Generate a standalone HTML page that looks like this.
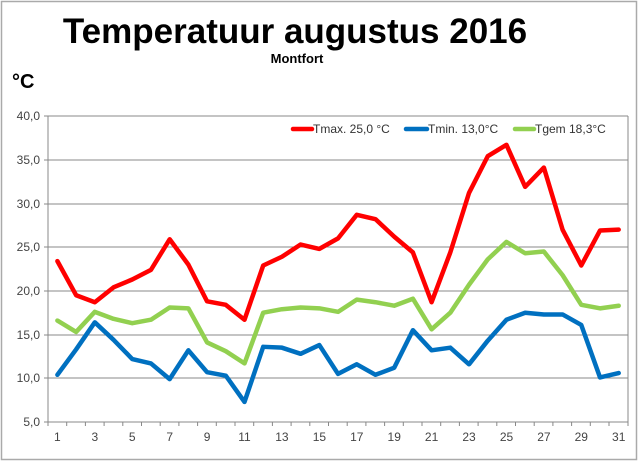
<!DOCTYPE html>
<html><head><meta charset="utf-8"><style>
html,body{margin:0;padding:0;background:#fff;}
svg{display:block;font-family:"Liberation Sans",Arial,sans-serif;}
</style></head><body>
<svg width="640" height="462" viewBox="0 0 640 462">
<rect x="1.5" y="1.5" width="635" height="458" fill="#fff" stroke="#aaa" stroke-width="1.5"/>
<text x="295" y="43" text-anchor="middle" font-size="35" font-weight="bold" fill="#000">Temperatuur augustus 2016</text>
<text x="297" y="63" text-anchor="middle" font-size="13" font-weight="bold" fill="#000">Montfort</text>
<text x="12" y="88" font-size="20" font-weight="bold" fill="#000">°C</text>
<g stroke="#888" stroke-width="1">
<line x1="48" y1="116" x2="628" y2="116"/>
<line x1="48" y1="160" x2="628" y2="160"/>
<line x1="48" y1="204" x2="628" y2="204"/>
<line x1="48" y1="247" x2="628" y2="247"/>
<line x1="48" y1="291" x2="628" y2="291"/>
<line x1="48" y1="335" x2="628" y2="335"/>
<line x1="48" y1="378" x2="628" y2="378"/>
<line x1="48" y1="422" x2="628" y2="422"/>
<line x1="48" y1="116" x2="48" y2="422"/>
<line x1="628" y1="116" x2="628" y2="426"/>
<line x1="44" y1="116" x2="48" y2="116"/><line x1="44" y1="160" x2="48" y2="160"/><line x1="44" y1="204" x2="48" y2="204"/><line x1="44" y1="247" x2="48" y2="247"/><line x1="44" y1="291" x2="48" y2="291"/><line x1="44" y1="335" x2="48" y2="335"/><line x1="44" y1="378" x2="48" y2="378"/><line x1="44" y1="422" x2="48" y2="422"/>
</g>
<g stroke="#888" stroke-width="1" id="xt">
<path d="M48 422v4M66.7 422v4M85.4 422v4M104.1 422v4M122.8 422v4M141.5 422v4M160.2 422v4M178.9 422v4M197.6 422v4M216.3 422v4M235 422v4M253.7 422v4M272.4 422v4M291.1 422v4M309.8 422v4M328.5 422v4M347.2 422v4M365.9 422v4M384.6 422v4M403.3 422v4M422 422v4M440.7 422v4M459.4 422v4M478.1 422v4M496.8 422v4M515.5 422v4M534.2 422v4M552.9 422v4M571.6 422v4M590.3 422v4M609 422v4"/>
</g>
<g font-size="12" fill="#444" text-anchor="end">
<text x="40" y="120">40,0</text><text x="40" y="164">35,0</text><text x="40" y="208">30,0</text><text x="40" y="251">25,0</text><text x="40" y="295">20,0</text><text x="40" y="339">15,0</text><text x="40" y="382">10,0</text><text x="40" y="426">5,0</text>
</g>
<g font-size="12" fill="#444" text-anchor="middle">
<text x="57.4" y="441">1</text><text x="94.8" y="441">3</text><text x="132.2" y="441">5</text><text x="169.7" y="441">7</text><text x="207.1" y="441">9</text><text x="244.5" y="441">11</text><text x="281.9" y="441">13</text><text x="319.4" y="441">15</text><text x="356.8" y="441">17</text><text x="394.2" y="441">19</text><text x="431.6" y="441">21</text><text x="469" y="441">23</text><text x="506.5" y="441">25</text><text x="543.9" y="441">27</text><text x="581.3" y="441">29</text><text x="618.7" y="441">31</text>
</g>
<g transform="translate(38.69,465.715) scale(18.71,-8.743)" fill="none" stroke-linejoin="round" stroke-linecap="round">
<polyline vector-effect="non-scaling-stroke" stroke="#92d050" stroke-width="4.5" points="1,16.6 2,15.3 3,17.6 4,16.8 5,16.3 6,16.7 7,18.1 8,18.0 9,14.1 10,13.1 11,11.7 12,17.5 13,17.9 14,18.1 15,18.0 16,17.6 17,19.0 18,18.7 19,18.3 20,19.1 21,15.6 22,17.5 23,20.7 24,23.6 25,25.6 26,24.3 27,24.5 28,21.8 29,18.4 30,18.0 31,18.3"/>
<polyline vector-effect="non-scaling-stroke" stroke="#0070c0" stroke-width="4.5" points="1,10.4 2,13.3 3,16.4 4,14.4 5,12.2 6,11.7 7,9.9 8,13.2 9,10.7 10,10.3 11,7.3 12,13.6 13,13.5 14,12.8 15,13.8 16,10.5 17,11.6 18,10.4 19,11.2 20,15.5 21,13.2 22,13.5 23,11.6 24,14.3 25,16.7 26,17.5 27,17.3 28,17.3 29,16.1 30,10.1 31,10.6"/>
<polyline vector-effect="non-scaling-stroke" stroke="#ff0000" stroke-width="4.5" points="1,23.4 2,19.5 3,18.7 4,20.4 5,21.3 6,22.4 7,25.9 8,23.0 9,18.8 10,18.4 11,16.7 12,22.9 13,23.9 14,25.3 15,24.8 16,26.0 17,28.7 18,28.2 19,26.2 20,24.4 21,18.7 22,24.4 23,31.2 24,35.4 25,36.7 26,31.9 27,34.1 28,27.0 29,22.9 30,26.9 31,27.0"/>
</g>
<g stroke-width="4.5" stroke-linecap="round">
<line x1="293" y1="129" x2="312" y2="129" stroke="#ff0000"/>
<line x1="406" y1="129" x2="427" y2="129" stroke="#0070c0"/>
<line x1="515" y1="129" x2="534" y2="129" stroke="#92d050"/>
</g>
<g font-size="12" fill="#333">
<text x="313" y="133">Tmax. 25,0 °C</text>
<text x="428" y="133">Tmin. 13,0°C</text>
<text x="535" y="133">Tgem 18,3°C</text>
</g>
</svg>
</body></html>
